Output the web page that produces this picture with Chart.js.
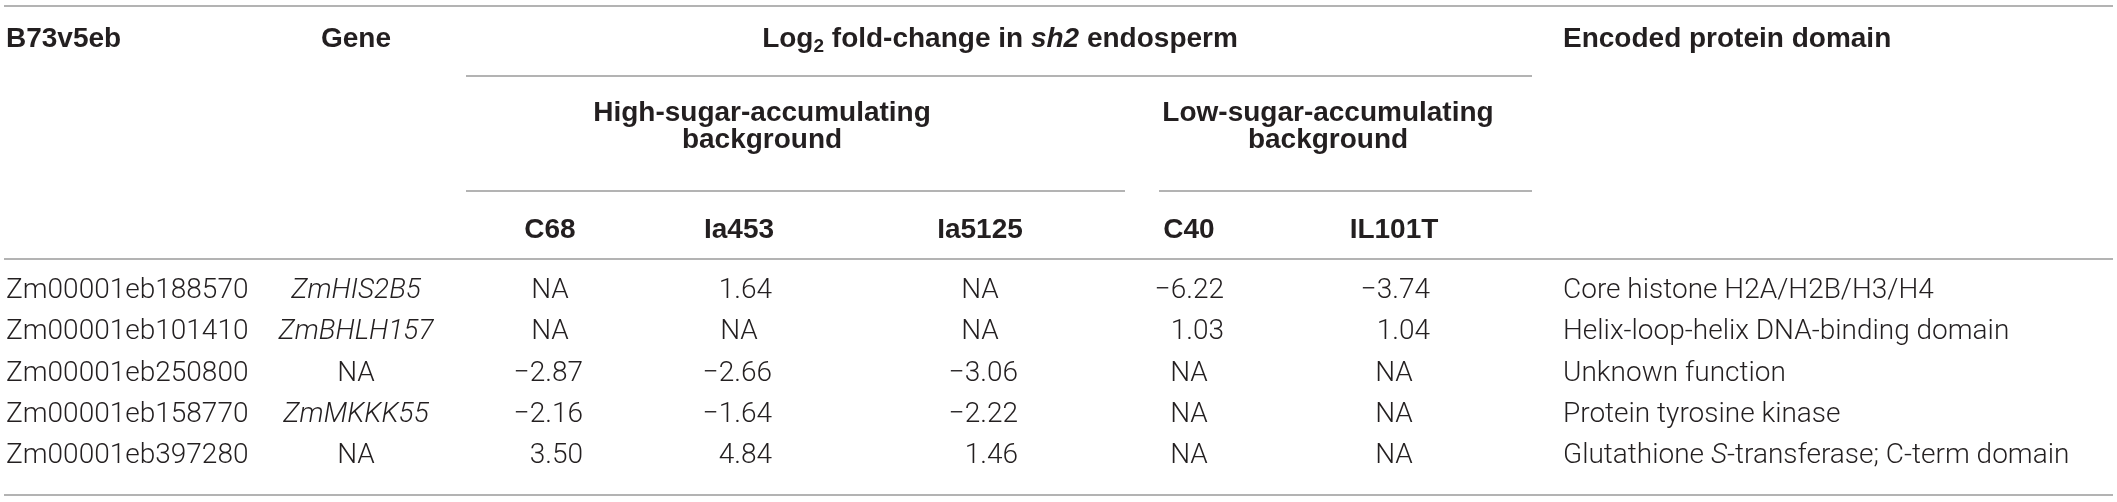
<!DOCTYPE html>
<html>
<head>
<meta charset="utf-8">
<script src="https://cdn.jsdelivr.net/npm/chart.js@4.4.1/dist/chart.umd.min.js"></script>
<style>
  html, body { margin: 0; padding: 0; background: #fff; }
  #tabela { display: block; }
</style>
</head>
<body>
<canvas id="tabela" width="2117" height="502"></canvas>
<script>
// Dados da tabela
const geneIds = ["Zm00001eb188570", "Zm00001eb101410", "Zm00001eb250800", "Zm00001eb158770", "Zm00001eb397280"];
const geneNames = ["ZmHIS2B5", "ZmBHLH157", null, "ZmMKKK55", null];
const lineNames = ["C68", "Ia453", "Ia5125", "C40", "IL101T"];
const c68 = [null, null, -2.87, -2.16, 3.50];
const ia453 = [1.64, null, -2.66, -1.64, 4.84];
const ia5125 = [null, null, -3.06, -2.22, 1.46];
const c40 = [-6.22, 1.03, null, null, null];
const il101t = [-3.74, 1.04, null, null, null];
const domains = [
    "Core histone H2A/H2B/H3/H4",
    "Helix-loop-helix DNA-binding domain",
    "Unknown function",
    "Protein tyrosine kinase",
    "Glutathione _S_-transferase; C-term domain"
];
const groupNames = [["High-sugar-accumulating", "background"], ["Low-sugar-accumulating", "background"]];
const valueColumns = [c68, ia453, ia5125, c40, il101t];

// Layout (posições em pixels)
const layout = {
    idLeft: 6,
    geneCenter: 356,
    domainLeft: 1563,
    valueCenter: [550, 739, 980, 1189, 1394],
    valueRight: [583, 772, 1018, 1224, 1430],
    groupCenter: [762, 1328],
    foldCenter: 1000,
    headBase: 47,
    groupBase: [121, 148],
    colHeadBase: 238,
    capHalf: 9.6,
    rules: [
        { y: 6, x0: 4, x1: 2113 },
        { y: 76, x0: 466, x1: 1532 },
        { y: 191, x0: 466, x1: 1125 },
        { y: 191, x0: 1159, x1: 1532 },
        { y: 259, x0: 4, x1: 2113 },
        { y: 495, x0: 4, x1: 2113 }
    ]
};

const TEXT = "#231f20";
const FONT_BODY = '300 28px Roboto, "Liberation Sans", sans-serif';
const FONT_BODY_IT = 'italic 300 28px Roboto, "Liberation Sans", sans-serif';
const FONT_HEAD = 'bold 28px "Liberation Sans", Arial, sans-serif';
const FONT_HEAD_IT = 'italic bold 28px "Liberation Sans", Arial, sans-serif';
const FONT_SUB = 'bold 19px "Liberation Sans", Arial, sans-serif';

function formatar(v) {
    if (v === null) return "NA";
    return (v < 0 ? "\u2212" : "") + Math.abs(v).toFixed(2);
}

// Texto com trechos de fontes diferentes
function desenharTrechos(ctx, trechos, x, y, align) {
    let total = 0;
    trechos.forEach(t => { ctx.font = t.font; total += ctx.measureText(t.text).width; });
    let cx = align === "center" ? x - total / 2 : (align === "right" ? x - total : x);
    ctx.textAlign = "left";
    trechos.forEach(t => {
        ctx.font = t.font;
        ctx.fillText(t.text, cx, y + (t.dy || 0));
        cx += ctx.measureText(t.text).width;
    });
}

// "_x_" marca itálico
function trechosItalico(texto, normal, italico) {
    return texto.split("_").filter(s => s.length).map((s, i, arr) => ({ text: s, font: normal }))
        .map((t, i) => t);
}

function parseItalico(texto, normal, italico) {
    return texto.split("_").map((s, i) => ({ text: s, font: i % 2 ? italico : normal })).filter(t => t.text.length);
}

const tabelaPlugin = {
    id: "tabela",
    afterDatasetsDraw(chart) {
        const ctx = chart.ctx;
        const yScale = chart.scales.y;
        ctx.save();
        ctx.fillStyle = TEXT;
        ctx.textBaseline = "alphabetic";

        // linhas horizontais
        ctx.strokeStyle = "#9a9a9a";
        ctx.lineWidth = 1.5;
        layout.rules.forEach(r => {
            ctx.beginPath();
            ctx.moveTo(r.x0, r.y);
            ctx.lineTo(r.x1, r.y);
            ctx.stroke();
        });

        // cabeçalho
        ctx.font = FONT_HEAD;
        ctx.textAlign = "left";
        ctx.fillText("B73v5eb", layout.idLeft, layout.headBase);
        ctx.fillText("Encoded protein domain", layout.domainLeft, layout.headBase);
        ctx.textAlign = "center";
        ctx.fillText("Gene", layout.geneCenter, layout.headBase);
        desenharTrechos(ctx, [
            { text: "Log", font: FONT_HEAD },
            { text: "2", font: FONT_SUB, dy: 5 },
            { text: " fold-change in ", font: FONT_HEAD },
            { text: "sh2", font: FONT_HEAD_IT },
            { text: " endosperm", font: FONT_HEAD }
        ], layout.foldCenter, layout.headBase, "center");

        ctx.font = FONT_HEAD;
        ctx.textAlign = "center";
        groupNames.forEach((linhas, g) => {
            linhas.forEach((l, k) => ctx.fillText(l, layout.groupCenter[g], layout.groupBase[k]));
        });
        lineNames.forEach((nome, j) => ctx.fillText(nome, layout.valueCenter[j], layout.colHeadBase));

        // linhas de dados
        geneIds.forEach((id, i) => {
            const base = yScale.getPixelForValue(i) + layout.capHalf;
            ctx.font = FONT_BODY;
            ctx.textAlign = "left";
            ctx.fillText(id, layout.idLeft, base);

            ctx.textAlign = "center";
            ctx.font = geneNames[i] ? FONT_BODY_IT : FONT_BODY;
            ctx.fillText(geneNames[i] || "NA", layout.geneCenter, base);

            desenharTrechos(ctx, parseItalico(domains[i], FONT_BODY, FONT_BODY_IT), layout.domainLeft, base, "left");
        });

        // valores, nas posições dos pontos de cada dataset
        chart.data.datasets.forEach((ds, j) => {
            const meta = chart.getDatasetMeta(j);
            meta.data.forEach((pt, i) => {
                const v = valueColumns[j][i];
                const base = pt.y + layout.capHalf;
                ctx.font = FONT_BODY;
                if (v === null) {
                    ctx.textAlign = "center";
                    ctx.fillText("NA", pt.x, base);
                } else {
                    ctx.textAlign = "right";
                    ctx.fillText(formatar(v), layout.valueRight[j], base);
                }
            });
        });
        ctx.restore();
    }
};

const ctx = document.getElementById("tabela").getContext("2d");
window.chartInstance = new Chart(ctx, {
    type: "scatter",
    data: {
        datasets: lineNames.map((nome, j) => ({
            label: nome,
            data: geneIds.map(id => ({ x: layout.valueCenter[j], y: id })),
            pointRadius: 0
        }))
    },
    options: {
        responsive: false,
        animation: false,
        devicePixelRatio: 1,
        layout: { padding: { top: 268, bottom: 28, left: 0, right: 0 } },
        scales: {
            x: { type: "linear", min: 0, max: 2117, display: false },
            y: { type: "category", labels: geneIds, offset: true, display: false }
        },
        plugins: {
            legend: { display: false },
            tooltip: { enabled: false }
        }
    },
    plugins: [tabelaPlugin]
});
</script>
</body>
</html>
